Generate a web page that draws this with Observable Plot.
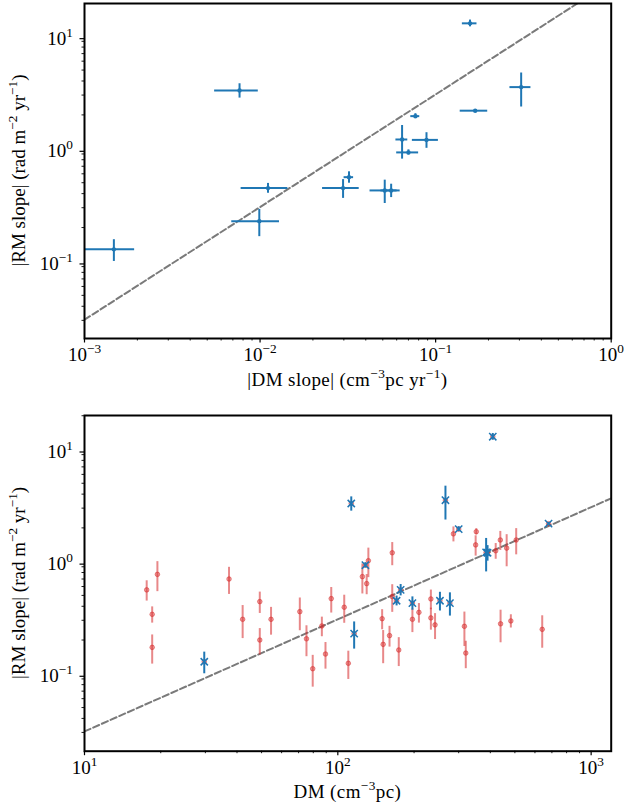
<!DOCTYPE html>
<html><head><meta charset="utf-8">
<script src="https://cdn.jsdelivr.net/npm/d3@7"></script>
<script src="https://cdn.jsdelivr.net/npm/@observablehq/plot@0.6"></script>
<style>
body{margin:0;background:#fff;}
#chart{width:625px;}
svg{display:block;}
</style></head><body><div id="chart"></div>
<script>
// ---- Top panel: |DM slope| vs |RM slope| (15 pulsars) ----
const dmSlope    = [0.00147,0.00764,0.0099,0.0111,0.0297,0.0321,0.0513,0.0558,0.0644,0.0700,0.0767,0.0887,0.157,0.168,0.307];
const dmSlopeErr = [0.00046,0.00213,0.0030,0.0033,0.0070,0.0020,0.0090,0.0070,0.0050,0.0100,0.0045,0.0150,0.015,0.030,0.042];
const rmSlope    = [0.128,3.30,0.228,0.448,0.448,0.560,0.427,0.427,1.21,0.929,1.95,1.20,13.0,2.18,3.53];
const rmSlopeErr = [0.028,0.48,0.062,0.045,0.085,0.065,0.10,0.058,0.40,0.05,0.10,0.19,0.9,0.05,1.18];
// DM of the same 15 pulsars (bottom panel, blue crosses)
const subsetDM   = [29.7,113,116,170.6,253,177,277,197,385,128.5,300,390,409,679,266];

// ---- Bottom panel: full sample (red) ----
const sampleDM    = [17.6,19.4,18.5,18.5,37.2,42.1,49.2,49.2,54.5,70.8,75.2,79.6,86.5,89.4,94.2,106,110,149.6,151,160,174,164,197,209,233,233,242,316,320,439,482,641,286,352,350,420,438,464,506,164,125,132,130];
const sampleRm    = [0.56,0.77,0.339,0.172,0.70,0.306,0.44,0.20,0.306,0.358,0.205,0.111,0.267,0.150,0.468,0.392,0.124,0.31,0.183,0.219,0.163,0.488,0.306,0.353,0.465,0.315,0.273,0.265,0.153,0.279,0.296,0.249,1.77,1.85,1.41,1.25,1.56,1.32,1.56,1.20,0.735,1.02,0.637];
const sampleRmErr = [0.115,0.23,0.056,0.05,0.19,0.10,0.095,0.053,0.085,0.116,0.063,0.035,0.053,0.04,0.12,0.11,0.035,0.063,0.06,0.046,0.047,0.135,0.073,0.07,0.093,0.07,0.071,0.09,0.042,0.09,0.04,0.08,0.27,0.12,0.29,0.2,0.3,0.42,0.41,0.28,0.22,0.3,0.13];

// ---- reference lines (dashed) ----
const fitTopX = [1e-3, 1],  fitTopY = [0.0304, 30.4];
const fitBotX = [10, 1200], fitBotY = [0.0306, 3.67];

// ---- ticks ----
const xMajorTop = [1e-3, 1e-2, 1e-1, 1];
const xMajorBot = [10, 100, 1000];
const yMajor    = [0.1, 1, 10];

const BLUE = "#1f77b4", RED = "#d62728", FS = 19, FONT = "Liberation Serif";
const xDomTop = [1e-3, 1], yDomTop = [0.0207, 19.5];
const xDomBot = [10, 1200], yDomBot = [0.0204, 20.1];

const minorOf = (dom, major) => d3.scaleLog().domain(dom).ticks().filter(t => !major.some(m => Math.abs(m - t) / m < 1e-9));
const fmt = d => "10^" + Math.round(Math.log10(d));

function axes(xDom, yDom, xMajor) {
  return [
    Plot.axisX({ticks: minorOf(xDom, xMajor), tickSize: 2.5, strokeWidth: 0.9, tickFormat: () => ""}),
    Plot.axisX({ticks: xMajor, tickSize: 4.5, strokeWidth: 1.2, tickPadding: 4.5, tickFormat: fmt}),
    Plot.axisY({ticks: minorOf(yDom, yMajor), tickSize: 2.5, strokeWidth: 0.9, tickFormat: () => ""}),
    Plot.axisY({ticks: yMajor, tickSize: 4.5, strokeWidth: 1.2, tickPadding: 7, dy: 2.5, tickFormat: fmt})
  ];
}

function richText(sel, parts, fs) {
  let shift = 0;
  for (const [s, sup] of parts) {
    const ts = sel.append("tspan").text(s);
    const target = sup ? -0.42 * fs : 0;
    if (target !== shift) { ts.attr("dy", target - shift); shift = target; }
    if (sup) ts.attr("font-size", fs * 0.7);
  }
  return sel;
}

function fixTicks(svg) {
  d3.select(svg).selectAll('g[aria-label$="tick label"] text').each(function() {
    const s = this.textContent;
    if (!s.startsWith("10^")) return;
    const e = s.slice(3).replace("-", "\u2212");
    const t = d3.select(this); t.text("");
    richText(t, [["10"], [e, true]], FS);
  });
}

function addLabels(svg, xParts, yParts, xl, yl) {
  const s = d3.select(svg);
  richText(s.append("text").attr("x", xl[0]).attr("y", xl[1]).attr("text-anchor", "middle")
    .attr("font-size", FS).attr("font-family", FONT).attr("letter-spacing", "0.4px"), xParts, FS);
  richText(s.append("text").attr("transform", `translate(${yl[0]},${yl[1]}) rotate(-90)`).attr("text-anchor", "middle")
    .attr("font-size", FS).attr("font-family", FONT), yParts, FS);
}

const idxTop = d3.range(dmSlope.length);
const idxRed = d3.range(sampleDM.length);
const style = {fontFamily: FONT, fontSize: FS + "px", color: "black", background: "white", overflow: "visible"};

const topPlot = Plot.plot({
  width: 625, height: 400,
  marginLeft: 84, marginRight: 14.3, marginTop: 3, marginBottom: 62,
  x: {type: "log", domain: xDomTop, axis: null},
  y: {type: "log", domain: yDomTop, axis: null},
  style,
  marks: [
    ...axes(xDomTop, yDomTop, xMajorTop),
    Plot.line(d3.range(fitTopX.length), {x: i => fitTopX[i], y: i => fitTopY[i], stroke: "#7a7a7a", strokeWidth: 2, strokeDasharray: "6.5,3", clip: true}),
    Plot.ruleY(idxTop, {y: i => rmSlope[i], x1: i => dmSlope[i] - dmSlopeErr[i], x2: i => dmSlope[i] + dmSlopeErr[i], stroke: BLUE, strokeWidth: 2}),
    Plot.ruleX(idxTop, {x: i => dmSlope[i], y1: i => rmSlope[i] - rmSlopeErr[i], y2: i => rmSlope[i] + rmSlopeErr[i], stroke: BLUE, strokeWidth: 2}),
    Plot.dot(idxTop, {x: i => dmSlope[i], y: i => rmSlope[i], r: 2.2, fill: BLUE, stroke: "none"}),
    Plot.frame({stroke: "black", strokeWidth: 2})
  ]
});
fixTicks(topPlot);
addLabels(topPlot,
  [["|DM slope| (cm"], ["\u22123", true], ["pc yr"], ["\u22121", true], [")"]],
  [["|RM slope| (rad m"], ["\u22122", true], [" yr"], ["\u22121", true], [")"]],
  [347.4, 386], [25, 170.5]);

const botPlot = Plot.plot({
  width: 625, height: 406,
  marginLeft: 84, marginRight: 14.3, marginTop: 15, marginBottom: 55.3,
  x: {type: "log", domain: xDomBot, axis: null},
  y: {type: "log", domain: yDomBot, axis: null},
  style,
  marks: [
    ...axes(xDomBot, yDomBot, xMajorBot),
    Plot.line(d3.range(fitBotX.length), {x: i => fitBotX[i], y: i => fitBotY[i], stroke: "#7a7a7a", strokeWidth: 2, strokeDasharray: "6.5,3", clip: true}),
    Plot.ruleX(idxRed, {x: i => sampleDM[i], y1: i => sampleRm[i] - sampleRmErr[i], y2: i => sampleRm[i] + sampleRmErr[i], stroke: RED, strokeOpacity: 0.55, strokeWidth: 2}),
    Plot.dot(idxRed, {x: i => sampleDM[i], y: i => sampleRm[i], r: 2.3, fill: RED, fillOpacity: 0.45, stroke: RED, strokeOpacity: 0.5, strokeWidth: 1}),
    Plot.dot(idxTop, {x: i => subsetDM[i], y: i => rmSlope[i], r: 2.3, fill: RED, fillOpacity: 0.45, stroke: RED, strokeOpacity: 0.5, strokeWidth: 1}),
    Plot.ruleX(idxTop, {x: i => subsetDM[i], y1: i => rmSlope[i] - rmSlopeErr[i], y2: i => rmSlope[i] + rmSlopeErr[i], stroke: BLUE, strokeWidth: 2}),
    Plot.dot(idxTop, {x: i => subsetDM[i], y: i => rmSlope[i], symbol: "times", r: 3.4, stroke: BLUE, strokeWidth: 1.5}),
    Plot.frame({stroke: "black", strokeWidth: 2})
  ]
});
fixTicks(botPlot);
addLabels(botPlot,
  [["DM (cm"], ["\u22123", true], ["pc)"]],
  [["|RM slope| (rad m"], ["\u22122", true], [" yr"], ["\u22121", true], [")"]],
  [347.4, 398], [25, 182.9]);

document.getElementById("chart").append(topPlot, botPlot);
</script></body></html>
